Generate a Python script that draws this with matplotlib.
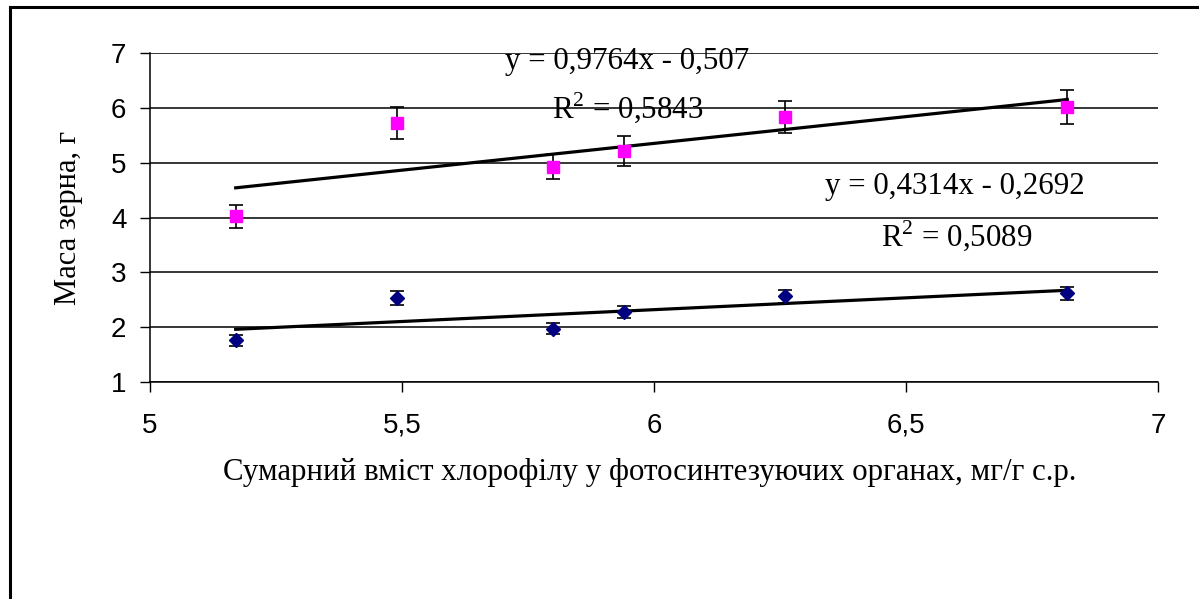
import matplotlib
matplotlib.use("Agg")
import matplotlib.pyplot as plt
from matplotlib.lines import Line2D

plt.rcParams['mathtext.fontset'] = 'custom'
plt.rcParams['mathtext.rm'] = 'Liberation Serif'

# Chlorophyll content, mg/g
chlorophyll = [5.17, 5.49, 5.80, 5.94, 6.26, 6.82]

# Grain mass, g (upper series - magenta squares)
mass_upper = [4.02, 5.72, 4.93, 5.21, 5.84, 6.02]
err_upper = [0.21, 0.29, 0.23, 0.27, 0.29, 0.31]

# Grain mass, g (lower series - navy diamonds)
mass_lower = [1.76, 2.53, 1.97, 2.27, 2.56, 2.62]
err_lower = [0.095, 0.13, 0.10, 0.11, 0.12, 0.12]

# Linear trends as printed on the chart
trend_upper = (0.9764, -0.507)
trend_lower = (0.4314, -0.2692)
eq_upper = ["y = 0,9764x - 0,507", r"R$^{\mathrm{2}}$ = 0,5843"]
eq_lower = ["y = 0,4314x - 0,2692", r"R$^{\mathrm{2}}$ = 0,5089"]

x_ticks = [5, 5.5, 6, 6.5, 7]
x_tick_labels = ["5", "5,5", "6", "6,5", "7"]
y_ticks = [1, 2, 3, 4, 5, 6, 7]

fig = plt.figure(figsize=(11.99, 5.99), dpi=100)
ax = fig.add_axes([150 / 1199, 1 - 382 / 599, 1008 / 1199, 329 / 599])

ax.set_xlim(5, 7)
ax.set_ylim(1, 7)
ax.yaxis.grid(True, color='black', lw=1.1)
ax.set_axisbelow(True)

# Trend lines over the data range
xs = [min(chlorophyll), max(chlorophyll)]
for k, b in (trend_upper, trend_lower):
    ax.plot(xs, [k * v + b for v in xs], color='black', lw=2.3, zorder=3)

ax.errorbar(chlorophyll, mass_upper, yerr=err_upper, fmt='s', color='#FF00FF',
            ms=8.5, mec='#FF00FF', ecolor='black', elinewidth=1.2,
            capsize=5, capthick=1.2, zorder=4)
ax.errorbar(chlorophyll, mass_lower, yerr=err_lower, fmt='D', color='#000080',
            ms=7.5, mec='#000080', ecolor='black', elinewidth=1.2,
            capsize=5, capthick=1.2, zorder=4)

serif = 'Liberation Serif'
ax.text(5.946, 6.84, eq_upper[0], family=serif, fontsize=22.3, ha='center', va='center')
ax.text(5.948, 6.0, eq_upper[1], family=serif, fontsize=22.3, ha='center', va='center')
ax.text(6.597, 4.56, eq_lower[0], family=serif, fontsize=22.3, ha='center', va='center')
ax.text(6.601, 3.68, eq_lower[1], family=serif, fontsize=22.3, ha='center', va='center')

ax.set_xticks(x_ticks)
ax.set_xticklabels(x_tick_labels)
ax.set_yticks(y_ticks)
ax.tick_params(axis='both', direction='out', length=7, width=1, color='black',
               labelsize=20, labelfontfamily='Liberation Sans')
ax.tick_params(axis='x', pad=15)
ax.tick_params(axis='y', pad=10)

for side in ('top', 'right'):
    ax.spines[side].set_visible(False)
for side in ('left', 'bottom'):
    ax.spines[side].set_linewidth(1.1)

ax.set_ylabel("Маса зерна, г", family=serif, fontsize=22)
ax.yaxis.set_label_coords(-0.0665, 0.5)
ax.set_xlabel("Сумарний вміст хлорофілу у фотосинтезуючих органах, мг/г с.р.",
              family=serif, fontsize=22.2)
ax.xaxis.set_label_coords(0.496, -0.231)

# Outer frame (left and top edges visible)
fx = 10 / 1199
fy = 1 - 7 / 599
fig.add_artist(Line2D([fx, fx], [0, fy], transform=fig.transFigure, color='black', lw=2.2))
fig.add_artist(Line2D([fx, 1], [fy, fy], transform=fig.transFigure, color='black', lw=2.2))

fig.savefig("out.png", dpi=100)
